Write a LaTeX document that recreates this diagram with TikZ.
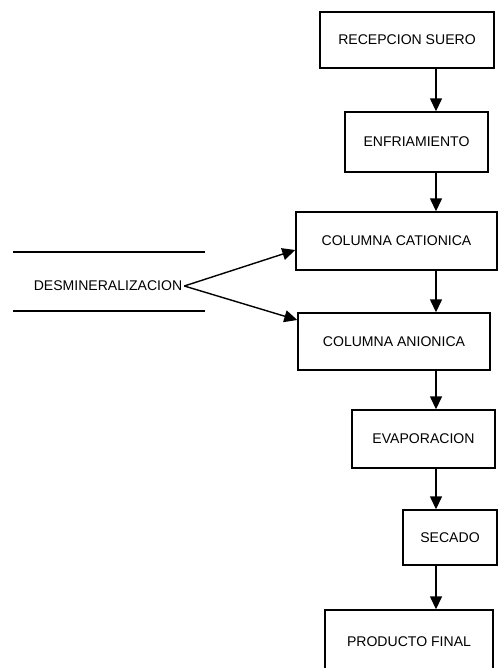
\documentclass[tikz,border=0pt]{standalone}
\usepackage{fontspec}
\setmainfont{Liberation Sans}
\usetikzlibrary{arrows.meta}
\begin{document}
\begin{tikzpicture}[>={Triangle[length=2.6mm,width=2.4mm]},
  proc/.style={draw, line width=0.8pt, inner sep=0pt, font=\fontsize{8}{10}\selectfont},
  flow/.style={->, line width=0.8pt}]
\useasboundingbox (0,0) rectangle (9.96,-13.36);
\coordinate (spine) at (8.72,0);

\node[proc, minimum width=3.48cm, minimum height=1.12cm] (rec) at (8.14,-0.80) {RECEPCION SUERO};
\node[proc, minimum width=2.86cm, minimum height=1.20cm] (enf) at (8.33,-2.84) {ENFRIAMIENTO};
\node[proc, minimum width=4.02cm, minimum height=1.16cm] (cat) at (7.93,-4.82) {COLUMNA CATIONICA};
\node[proc, minimum width=3.84cm, minimum height=1.14cm] (ani) at (7.88,-6.83) {COLUMNA ANIONICA};
\node[proc, minimum width=2.86cm, minimum height=1.16cm] (eva) at (8.47,-8.78) {EVAPORACION};
\node[proc, minimum width=1.88cm, minimum height=1.10cm] (sec) at (9.00,-10.75) {SECADO};
\node[proc, minimum width=3.36cm, minimum height=1.28cm] (prod) at (8.18,-12.84) {PRODUCTO FINAL};

\node[font=\fontsize{8}{10}\selectfont, inner sep=1pt] (dem) at (2.16,-5.72) {DESMINERALIZACION};
\draw[line width=0.8pt] (0.26,-5.04) -- (4.10,-5.04);
\draw[line width=0.8pt] (0.26,-6.22) -- (4.10,-6.22);

\draw[flow] (rec.south -| spine) -- (enf.north -| spine);
\draw[flow] (enf.south -| spine) -- (cat.north -| spine);
\draw[flow] (cat.south -| spine) -- (ani.north -| spine);
\draw[flow] (ani.south -| spine) -- (eva.north -| spine);
\draw[flow] (eva.south -| spine) -- (sec.north -| spine);
\draw[flow] (sec.south -| spine) -- (prod.north -| spine);

\draw[flow] (dem.east) -- ([yshift=-0.18cm]cat.west);
\draw[flow] (dem.east) -- ([yshift=0.43cm]ani.west);
\end{tikzpicture}
\end{document}
